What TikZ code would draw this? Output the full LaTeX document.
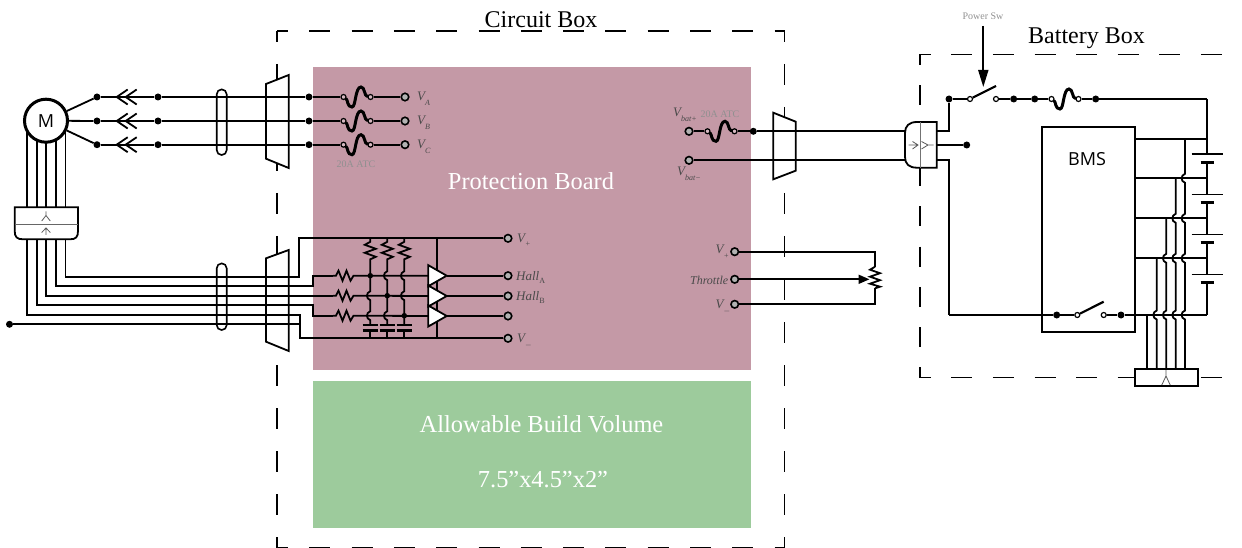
\documentclass[tikz,border=0pt]{standalone}
\usepackage{fontspec}
\setmainfont{Liberation Serif}
\newfontfamily\sansf{Open Sans}
\usetikzlibrary{arrows.meta}
\definecolor{pinkbd}{HTML}{C499A6}
\definecolor{greenbv}{HTML}{9DCB9C}
\definecolor{lblgray}{HTML}{4A4A4A}
\definecolor{notegray}{HTML}{909090}
\tikzset{
  wire/.style={line width=1.8pt,black},
  fat/.style={line width=3pt,black},
  plate/.style={line width=2.2pt,black},
  symb/.style={line width=0.8pt,black!65},
  dotn/.style={circle,fill=black,inner sep=0pt,minimum size=7pt},
  termn/.style={circle,draw=black,line width=1.6pt,fill=black!30,inner sep=0pt,minimum size=7.5pt},
  opn/.style={circle,draw=black,line width=1.2pt,fill=white,inner sep=0pt,minimum size=5pt},
  opp/.style={opn,fill=pinkbd!70!white},
  title/.style={font=\fontsize{24}{28}\selectfont,anchor=base},
  board/.style={font=\fontsize{24.4}{28}\selectfont,anchor=base,text=white},
  note/.style={font=\fontsize{10}{12}\selectfont,text=notegray},
  vlab/.style={font=\fontsize{13}{15}\selectfont\itshape,text=lblgray,anchor=base west,inner sep=0pt},
  sans/.style={font=\sansf\fontsize{18}{20}\selectfont},
}
\newcommand{\lv}[1]{V\raisebox{-5pt}{\fontsize{8}{9}\selectfont #1}}
\newcommand{\vhopat}[2]{-- (#1,#2-4.5) .. controls (#1-4.5,#2-3) and (#1-4.5,#2+3) .. (#1,#2+4.5)}
% name, centre x, y, circle style
\newcommand{\fuse}[4]{%
  \node[#4] (#1l) at (#2-13.5,#3) {};
  \node[#4] (#1r) at (#2+13.5,#3) {};
  \draw[fat,line cap=round] (#1l) .. controls (#2-9,#3+3) and (#2-10,#3+10) .. (#2-5,#3+10)
     .. controls (#2-1,#3+10) and (#2-2,#3-10) .. (#2+4,#3-10)
     .. controls (#2+8,#3-10) and (#2+7,#3-1) .. (#1r);
}
\newcommand{\chev}[2]{%
  \draw[wire] (#1+11,#2-7.5) -- (#1,#2) -- (#1+11,#2+7.5);
  \draw[wire] (#1+20,#2-7.5) -- (#1+9,#2) -- (#1+20,#2+7.5);
}
\newcommand{\hres}[1]{-- ++(3,0) -- ++(2.5,-5) -- ++(4,10) -- ++(4,-10) -- ++(4,10) -- ++(3,-5) -- ++(3.5,0)}
\newcommand{\vres}{-- ++(0,3.5) -- ++(-5.5,3) -- ++(11,4) -- ++(-11,4) -- ++(11,4) -- ++(-5.5,2.5) -- ++(0,2)}
\begin{document}
\begin{tikzpicture}[x=1pt,y=-1pt]
\useasboundingbox (0,0) rectangle (1242,548);
\clip (0,0) rectangle (1242,548);

% regions
\fill[pinkbd] (313,67) rectangle (751,370);
\fill[greenbv] (313,381) rectangle (751,528);

% circuit box dashes
\draw[wire,dash pattern=on 21pt off 21.3pt,dash phase=10pt] (277,31) -- (784.5,31);
\draw[wire,dash pattern=on 21pt off 21.3pt,dash phase=10pt] (277,547.5) -- (784.5,547.5);
\draw[wire,dash pattern=on 21pt off 22pt,dash phase=10pt] (277,31) -- (277,547.5);
\draw[wire,dash pattern=on 21pt off 22pt,dash phase=10pt] (784.5,31) -- (784.5,547.5);
% battery box dashes
\draw[wire,dash pattern=on 21pt off 20.6pt,dash phase=10.3pt] (920,54.5) -- (1243,54.5);
\draw[wire,dash pattern=on 21pt off 20.6pt,dash phase=10.3pt] (920,377.5) -- (1243,377.5);
\draw[wire,dash pattern=on 20pt off 20.3pt,dash phase=9.5pt] (920,54.5) -- (920,377.5);

% trapezoids (hide the box outline behind them)
\draw[wire,fill=white] (266,84) -- (288.7,75) -- (288.7,168) -- (266,158.7) -- cycle;
\draw[wire,fill=white] (266,258.3) -- (288.7,250) -- (288.7,351) -- (266,341.7) -- cycle;
\draw[wire,fill=white] (773.3,112.7) -- (795.7,121.7) -- (795.7,170.7) -- (773.3,179.3) -- cycle;

% titles
\node[title] (tcb) at (541,27.5) {Circuit Box};
\node[title] (tbb) at (1086.5,44) {Battery Box};
\node[board] (tpb) at (531,190) {Protection Board};
\node[board] (tab) at (541.5,432) {Allowable Build Volume};
\node[board] (tdim) at (543,487) {7.5”x4.5”x2”};

% motor feed lines to splitter
\foreach \n/\x in {1/27,2/36.7,3/46,4/56,5/65.5}{
  \coordinate (mv\n) at (\x,120);
  \coordinate (st\n) at (\x,207.3);
  \coordinate (sb\n) at (\x,239.3);
  \draw[wire] (mv\n) -- (st\n);
}
\node[circle,draw=black,line width=3pt,fill=white,inner sep=0pt,minimum size=43pt,sans] (M) at (46,120.7) {M};

% phase lines
\foreach \n/\y in {1/97,2/121,3/144.7}{
  \node[dotn] (ma\n) at (97,\y) {};
  \node[dotn] (mb\n) at (158,\y) {};
  \node[dotn] (mc\n) at (309,\y) {};
  \draw[wire] (M) -- (ma\n);
  \draw[wire] (ma\n) -- (mb\n);
  \draw[wire] (mb\n) -- (mc\n);
  \chev{116.7}{\y}
}
\foreach \n/\y/\t in {1/97/A,2/121/B,3/144.7/C}{
  \fuse{f\n}{357}{\y}{opp}
  \node[termn] (tv\n) at (405,\y) {};
  \draw[wire] (mc\n) -- (f\n l);
  \draw[wire] (f\n r) -- (tv\n);
  \node[vlab] (lv\n) at (417,\y+4) {\lv{\t}};
}
\node[note] (nf1) at (356,164) {20A ATC};

% cable ovals
\node[draw=black,line width=1.6pt,rounded corners=5pt,minimum width=10pt,minimum height=65.7pt,inner sep=0pt] (ov1) at (221.7,122.2) {};
\node[draw=black,line width=1.6pt,rounded corners=5pt,minimum width=10pt,minimum height=66.7pt,inner sep=0pt] (ov2) at (221.7,296.7) {};

% lower harness
\node[termn] (tvp) at (508,238.3) {};
\node[termn] (tha) at (508,275.7) {};
\node[termn] (thb) at (508,296) {};
\node[termn] (thc) at (508,316) {};
\node[termn] (tvm) at (508,338.3) {};
\coordinate (j5) at (299,276.7);
\coordinate (j4) at (313,286);
\coordinate (j2) at (313,305.3);
\coordinate (j1) at (300,315);
\coordinate (r1) at (333,275.7);
\coordinate (r2) at (333,295.7);
\coordinate (r3) at (333,315.7);
\coordinate (a1) at (428.3,275.7);
\coordinate (a2) at (428.3,296);
\coordinate (a3) at (428.3,316);
\node[dotn] (dgnd) at (9.5,324.3) {};
\coordinate (j0) at (300,324.3);
\draw[wire] (sb5) |- (j5) |- (tvp);
\draw[wire] (sb4) |- (j4) |- (r1);
\draw[wire] (sb3) |- (r2);
\draw[wire] (sb2) |- (j2) |- (r3);
\draw[wire] (sb1) |- (j1) |- (tvm);
\draw[wire] (dgnd) -- (j0);
\draw[wire] (r1) \hres{} -- (a1);
\draw[wire] (r2) \hres{} -- (a2);
\draw[wire] (r3) \hres{} -- (a3);

% pull-ups with caps
\draw[wire] (370.3,238.3) \vres \vhopat{370.3}{295.7} \vhopat{370.3}{315.7} -- (370.3,325);
\draw[wire] (387.3,238.3) \vres \vhopat{387.3}{275.7} \vhopat{387.3}{315.7} -- (387.3,325);
\draw[wire] (404.3,238.3) \vres \vhopat{404.3}{275.7} \vhopat{404.3}{295.7} -- (404.3,325);
\foreach \x in {370.3,387.3,404.3}{
  \draw[plate] (\x-7.8,325) -- (\x+7.8,325);
  \draw[plate] (\x-7.8,330.5) -- (\x+7.8,330.5);
  \draw[wire] (\x,330.5) -- (\x,338.3);
}
\node[dotn,minimum size=5.5pt] (jd1) at (370.3,275.7) {};
\node[dotn,minimum size=5.5pt] (jd2) at (387.3,295.7) {};
\node[dotn,minimum size=5.5pt] (jd3) at (404.3,315.7) {};

% buffers
\draw[wire] (437,238.3) -- (437,338.3);
\foreach \n/\y/\to in {1/275.7/tha,2/296/thb,3/316/thc}{
  \coordinate (tip\n) at (446.7,\y);
  \draw[wire] (tip\n) -- (\to);
  \draw[wire,fill=white] (428.3,\y-10.5) -- (tip\n) -- (428.3,\y+10.5) -- cycle;
}
\node[vlab] (lvp) at (517,242) {\lv{+}};
\node[vlab] (lha) at (516,280) {Hall\raisebox{-3pt}{\fontsize{8}{9}\selectfont\upshape A}};
\node[vlab] (lhb) at (516,300) {Hall\raisebox{-3pt}{\fontsize{8}{9}\selectfont\upshape B}};
\node[vlab] (lvm) at (517,342) {\lv{$-$}};

% splitter
\draw[wire,fill=white] (14.7,207.3) -- (78,207.3) -- (78,231) .. controls (78,237) and (76,239.3) .. (70,239.3)
   -- (23,239.3) .. controls (17,239.3) and (14.7,237) .. (14.7,231) -- cycle;
\draw[line width=0.8pt,black!60] (14.7,224) -- (78,224);
\draw[symb] (46,211.5) -- (46,215.5) (41.7,221) -- (46,215.5) -- (50.3,221);
\draw[symb] (46,235) -- (46,228) (41.7,232.5) -- (46,228) -- (50.3,232.5);

% battery input fuse
\node[termn] (tbp) at (689,131.3) {};
\node[termn] (tbm) at (689,160.3) {};
\fuse{fb}{721}{131.3}{opp}
\node[dotn] (db) at (753.3,131.3) {};
\coordinate (cl1) at (905,131.3);
\coordinate (cl2) at (905,160.3);
\draw[wire] (tbp) -- (fbl);
\draw[wire] (fbr) -- (db);
\draw[wire] (db) -- (cl1);
\draw[wire] (tbm) -- (cl2);
\node[vlab] (lbp) at (673,117) {\lv{\textit{bat+}}};
\node[vlab] (lbm) at (677,175.5) {\lv{\textit{bat−}}};
\node[note] (nf2) at (720,114) {20A ATC};

% battery connector
\draw[wire,fill=white] (936.7,122) -- (917,122) .. controls (909,122) and (905,126) .. (905,133)
   -- (905,157) .. controls (905,164) and (909,167.7) .. (917,167.7) -- (936.7,167.7) -- cycle;
\draw[line width=0.9pt,black!55] (920,122) -- (920,167.7);
\draw[symb] (908.5,145) -- (918,145) (912.5,141.5) -- (918,145) -- (912.5,149);
\draw[symb] (921.5,141.5) -- (928,145) -- (921.5,149) (928,145) -- (933.5,145);
\coordinate (co1) at (936.7,131);
\coordinate (co2) at (936.7,145);
\coordinate (co3) at (936.7,160);
\node[dotn] (ds1) at (949,99) {};
\node[dotn] (ds2) at (966.7,145) {};
\draw[wire] (co1) -| (ds1);
\draw[wire] (co2) -- (ds2);

% power switch row
\node[opn] (sw1) at (970,99) {};
\node[opn] (sw2) at (996,99) {};
\node[dotn] (dp1) at (1013.7,99) {};
\node[dotn] (dp2) at (1034.7,99) {};
\fuse{fp}{1065}{99}{opn}
\node[dotn] (dp3) at (1095.7,99) {};
\coordinate (btop) at (1207,99);
\draw[wire] (ds1) -- (sw1);
\draw[line width=2.2pt] (sw1) -- (996,86);
\draw[wire] (sw2) -- (dp1);
\draw[wire] (dp1) -- (dp2);
\draw[wire] (dp2) -- (fpl);
\draw[wire] (fpr) -- (dp3);
\draw[wire] (dp3) -- (btop);
\node[note] (npw) at (983,16) {Power Sw};
\coordinate (ps0) at (983.3,26);
\coordinate (ps1) at (983.3,87);
\draw[wire,-{Triangle[length=17pt,width=10pt]}] (ps0) -- (ps1);

% BMS
\node[draw=black,line width=1.8pt,minimum width=93pt,minimum height=205.6pt,inner sep=0pt] (bms) at (1088.8,229.5) {};
\node[sans] (bmst) at (1087,159) {BMS};
\coordinate (ts1) at (1135.3,139);
\coordinate (ts2) at (1135.3,178.3);
\coordinate (ts3) at (1135.3,218.3);
\coordinate (ts4) at (1135.3,258.3);
\coordinate (bl1) at (949,315);
\node[dotn] (dq1) at (1056.7,315) {};
\node[opn] (sq1) at (1077.3,315) {};
\node[opn] (sq2) at (1103.7,315) {};
\node[dotn] (dq2) at (1121,315) {};
\coordinate (bbot) at (1207,315);
\draw[wire] (co3) -| (bl1);
\draw[wire] (bl1) -- (dq1);
\draw[wire] (dq1) -- (sq1);
\draw[line width=2.2pt] (sq1) -- (1103.7,301.7);
\draw[wire] (sq2) -- (dq2);
\draw[wire] (dq2) -- (bbot);

% battery string
\foreach \n/\a/\b in {1/154/162.3,2/194.3/202.3,3/234.7/242.3,4/274.7/282.7}{
  \coordinate (bt\n) at (1207,\a);
  \coordinate (bb\n) at (1207,\b);
  \draw[line width=1.5pt] (1191.7,\a) -- (1222.7,\a);
  \draw[line width=3.2pt] (1200.7,\b) -- (1214,\b);
}
\draw[wire] (btop) -- (bt1);
\draw[wire] (bb1) -- (bt2);
\draw[wire] (bb2) -- (bt3);
\draw[wire] (bb3) -- (bt4);
\draw[wire] (bb4) -- (bbot);
\draw[wire] (ts1) -- (1207,139);
\draw[wire] (ts2) -- (1207,178.3);
\draw[wire] (ts3) -- (1207,218.3);
\draw[wire] (ts4) -- (1207,258.3);

% balance leads
\draw[wire] (1185,139) \vhopat{1185}{178.3} \vhopat{1185}{218.3} \vhopat{1185}{258.3} \vhopat{1185}{315} -- (1185,369);
\draw[wire] (1175.7,178.3) \vhopat{1175.7}{218.3} \vhopat{1175.7}{258.3} \vhopat{1175.7}{315} -- (1175.7,369);
\draw[wire] (1166.3,218.3) \vhopat{1166.3}{258.3} \vhopat{1166.3}{315} -- (1166.3,369);
\draw[wire] (1156.7,258.3) \vhopat{1156.7}{315} -- (1156.7,369);
\draw[wire] (1147.3,315) -- (1147.3,369);
\node[draw=black,line width=1.8pt,fill=white,minimum width=63.6pt,minimum height=16.7pt,inner sep=0pt] (bcon) at (1166.5,377.4) {};
\draw[symb] (1166,370) -- (1166,376) (1161.8,385) -- (1166,376) -- (1170.2,385);

% throttle
\node[termn] (ttp) at (734.7,251.7) {};
\node[termn] (ttt) at (734.7,279.3) {};
\node[termn] (ttm) at (734.7,304.3) {};
\coordinate (pt) at (875,266.7);
\coordinate (pb) at (875,288.3);
\coordinate (pw) at (869.5,279.3);
\draw[wire] (ttp) -| (pt);
\draw[wire] (ttm) -| (pb);
\draw[wire] (pt) -- ++(-5,3) -- ++(10,3.5) -- ++(-10,3.5) -- ++(10,3.5) -- ++(-10,3.5) -- ++(10,3) -- (pb);
\draw[wire,-{Triangle[length=11pt,width=9pt]}] (ttt) -- (pw);
\node[vlab] (ltp) at (715.5,254) {\lv{+}};
\node[vlab,font=\fontsize{12}{14}\selectfont\itshape,anchor=base east] (ltt) at (728.5,284.5) {Throttle};
\node[vlab] (ltm) at (715.5,308.5) {\lv{$-$}};
\end{tikzpicture}
\end{document}
